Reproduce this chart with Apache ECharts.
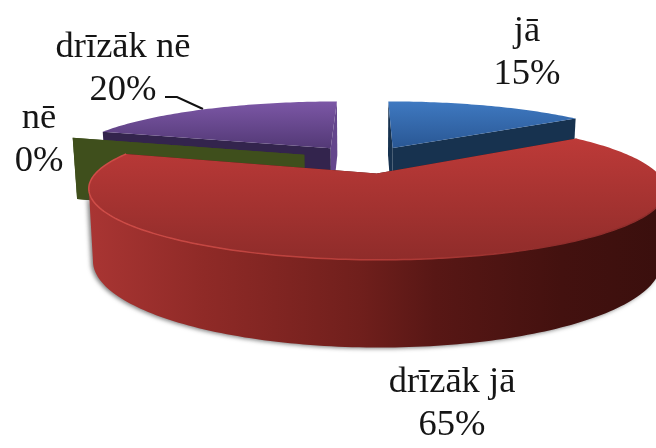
<!DOCTYPE html>
<html>
<head>
<meta charset="utf-8">
<style>
  html, body { margin: 0; padding: 0; background: #fff; }
  #pie_three { width: 656px; height: 448px; overflow: hidden; }
</style>
</head>
<body>
<div id="pie_three"></div>
<script src="https://cdn.jsdelivr.net/npm/echarts@6/dist/echarts.min.js"></script>
<script>
var categories = ['jā', 'drīzāk jā', 'nē', 'drīzāk nē'];
var values = [15, 65, 0, 20];
var explode = [0.22, 0.22, 0.25, 0.24];

// colours per slice
var topColors = [['#3f79c1', '#295794'], ['#bd3a38', '#8f2c2a'], ['#4a5c22', '#3f4f1c'], ['#7c57a6', '#533976']];
var startWallColors = ['#17324f', '#4a1513', '#3f4f1c', '#33244d'];
var endWallColors = ['#17324f', '#4a1513', '#3f4f1c', '#64468c'];
var sideStops = [
  [[0, '#2a5a98'], [1, '#17324f']],
  [[0, '#a93533'], [0.2, '#8f2a27'], [0.47, '#701f1c'], [0.6, '#581715'], [0.82, '#43110f'], [1, '#3a0f0d']],
  [[0, '#3f4f1c'], [1, '#3f4f1c']],
  [[0, '#33244d'], [1, '#33244d']]
];
var labelPos = [[527, 53], [452, 404], [39, 140], [123, 69]];

// fake 3d camera
var cx = 367, cy = 159.5, scaleX = 268, scaleY = 61, persp = 0.2137, thick = 66, bottomShrink = 0.985;
var total = values.reduce(function (a, b) { return a + b; }, 0);

function project(theta, r, off, low) {
  var u = r * Math.sin(theta) + off[0];
  var v = r * Math.cos(theta) + off[1];
  var d = 1 + persp * v;
  var x = scaleX * u / d;
  var y = -scaleY * v / d;
  if (low) {
    return [cx + x * bottomShrink, cy + y * bottomShrink + thick / d];
  }
  return [cx + x, cy + y];
}

function arcPoints(a, b, off, low) {
  var pts = [];
  var n = Math.max(2, Math.ceil(Math.abs(b - a) / 0.02));
  for (var i = 0; i <= n; i++) {
    pts.push(project(a + (b - a) * i / n, 1, off, low));
  }
  return pts;
}

// part of the arc that faces the viewer (x runs right to left there)
function frontRange(a, b, off) {
  var from = null, to = null;
  for (var t = a; t < b; t += 0.005) {
    if (project(t + 0.005, 1, off, false)[0] < project(t, 1, off, false)[0]) {
      if (from === null) from = t;
      to = t + 0.005;
    }
  }
  return from === null ? null : [from, to];
}

function vertical(stops) {
  return new echarts.graphic.LinearGradient(0, 0, 0, 1, [
    { offset: 0, color: stops[0] }, { offset: 1, color: stops[1] }
  ]);
}

function horizontal(stops) {
  return new echarts.graphic.LinearGradient(0, 0, 1, 0, stops.map(function (s) {
    return { offset: s[0], color: s[1] };
  }));
}

function renderSlice(params, api) {
  var idx = params.dataIndex;
  var before = 0;
  for (var i = 0; i < idx; i++) before += values[i];
  var a = before / total * Math.PI * 2;
  var b = (before + api.value(0)) / total * Math.PI * 2;
  var mid = (a + b) / 2;
  var off = [explode[idx] * Math.sin(mid), explode[idx] * Math.cos(mid)];
  // far slices get painted first
  var z = Math.round((1 - Math.cos(mid)) * 10) * 10;
  var apexT = project(0, 0, off, false), apexB = project(0, 0, off, true);
  var children = [];

  function wall(theta, color) {
    children.push({
      type: 'polygon',
      z2: z,
      shape: { points: [apexT, project(theta, 1, off, false), project(theta, 1, off, true), apexB] },
      style: { fill: color }
    });
  }
  wall(a, startWallColors[idx]);
  wall(b, endWallColors[idx]);

  if (b > a) {
    var front = frontRange(a, b, off);
    if (front) {
      var side = {
        type: 'polygon',
        z2: z + 1,
        shape: { points: arcPoints(front[0], front[1], off, false).concat(arcPoints(front[1], front[0], off, true)) },
        style: { fill: horizontal(sideStops[idx]) }
      };
      side.style.shadowColor = 'rgba(60,60,60,0.65)';
      side.style.shadowBlur = 4;
      side.style.shadowOffsetX = -2;
      side.style.shadowOffsetY = 1;
      children.push(side);
      // lighter bevel on the front edge
      children.push({
        type: 'polyline',
        z2: z + 3,
        shape: { points: arcPoints(front[0], b, off, false) },
        style: {
          fill: null,
          lineWidth: 1.5,
          stroke: new echarts.graphic.LinearGradient(0, 0, 1, 0, [
            { offset: 0, color: '#d04d48' },
            { offset: 0.5, color: '#b53d39' },
            { offset: 0.8, color: '#8f2c2a' },
            { offset: 1, color: '#8f2c2a' }
          ])
        }
      });
    }
    children.push({
      type: 'polygon',
      z2: z + 2,
      shape: { points: [apexT].concat(arcPoints(a, b, off, false)) },
      style: { fill: vertical(topColors[idx]) }
    });
  }

  children.push({
    type: 'text',
    z2: 200,
    style: {
      x: labelPos[idx][0],
      y: labelPos[idx][1],
      text: categories[idx] + '\n' + api.value(0) + '%',
      fill: '#151515',
      font: '36.5px "Liberation Serif", serif',
      lineHeight: 43,
      align: 'center',
      verticalAlign: 'middle'
    }
  });

  return { type: 'group', children: children };
}

var chart = echarts.init(document.getElementById('pie_three'));
chart.setOption({
  animation: false,
  graphic: [{
    // leader line of the drīzāk nē label
    type: 'polyline',
    shape: { points: [[165, 97], [177, 97], [203, 109]] },
    style: { fill: null, stroke: '#111', lineWidth: 2 }
  }],
  series: [{
    type: 'custom',
    coordinateSystem: 'none',
    silent: true,
    renderItem: renderSlice,
    data: values.map(function (v) { return [v]; })
  }]
});
</script>
</body>
</html>
